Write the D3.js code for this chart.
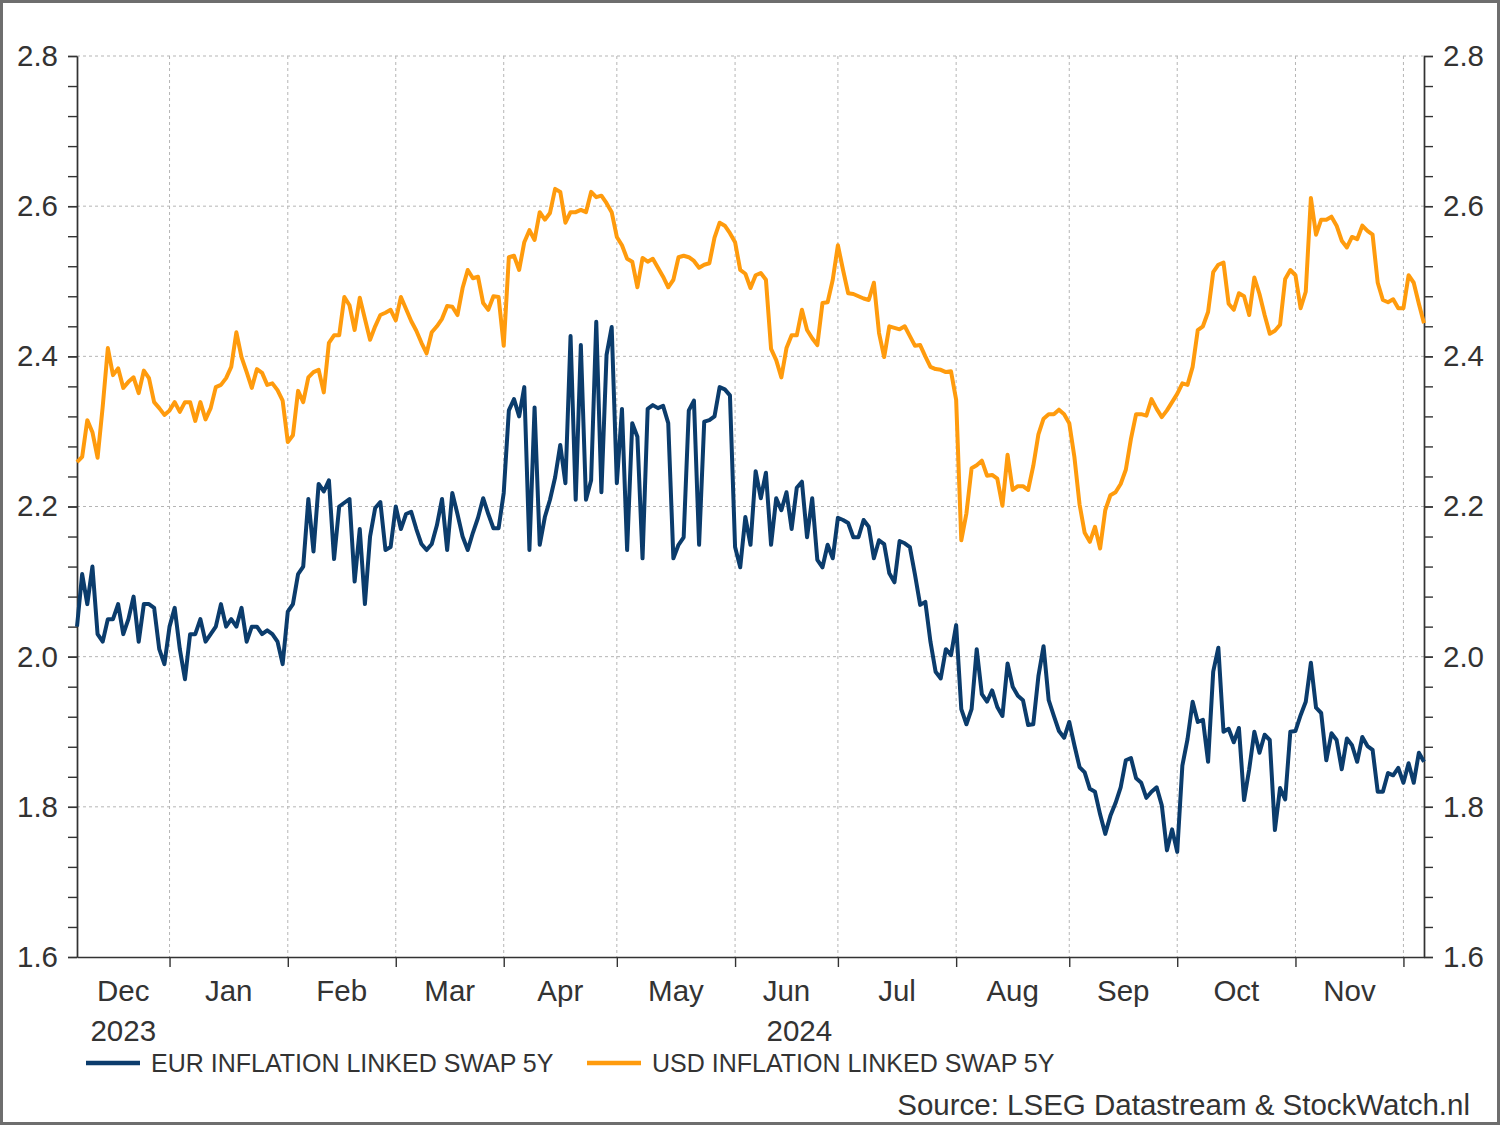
<!DOCTYPE html>
<html>
<head>
<meta charset="utf-8">
<script src="https://cdn.jsdelivr.net/npm/d3@7"></script>
<style>
  html, body { margin: 0; padding: 0; background: #fff; }
  svg text { font-family: "Liberation Sans", Arial, sans-serif; fill: #333; }
</style>
</head>
<body>
<script>
'use strict';

// first trading day shown, one value per trading day (Mon-Fri)
var startDate = '2023-12-06';

var eur = [
  2.04, 2.11, 2.07, 2.12, 2.03, 2.02, 2.05, 2.05, 2.07, 2.03,
  2.05, 2.08, 2.02, 2.07, 2.07, 2.065, 2.01, 1.99, 2.04, 2.065,
  2.01, 1.97, 2.03, 2.03, 2.05, 2.02, 2.03, 2.04, 2.07, 2.04,
  2.05, 2.04, 2.065, 2.02, 2.04, 2.04, 2.03, 2.035, 2.03, 2.02,
  1.99, 2.06, 2.07, 2.11, 2.12, 2.21, 2.14, 2.23, 2.22, 2.235,
  2.13, 2.20, 2.205, 2.21, 2.10, 2.17, 2.07, 2.16, 2.198, 2.206,
  2.142, 2.146, 2.20, 2.17, 2.19, 2.193, 2.17, 2.15, 2.142, 2.15,
  2.175, 2.21, 2.142, 2.218, 2.19, 2.16, 2.142, 2.165, 2.185, 2.211,
  2.19, 2.171, 2.171, 2.218, 2.328, 2.343, 2.32, 2.359, 2.142, 2.332,
  2.149, 2.186, 2.209, 2.239, 2.282, 2.231, 2.427, 2.209, 2.415, 2.209,
  2.235, 2.446, 2.219, 2.402, 2.439, 2.231, 2.33, 2.142, 2.311, 2.293,
  2.131, 2.33, 2.335, 2.331, 2.334, 2.311, 2.131, 2.149, 2.159, 2.328,
  2.341, 2.149, 2.313, 2.315, 2.32, 2.359, 2.356, 2.348, 2.146, 2.119,
  2.186, 2.149, 2.247, 2.211, 2.245, 2.149, 2.211, 2.195, 2.219, 2.17,
  2.225, 2.233, 2.159, 2.211, 2.129, 2.119, 2.149, 2.131, 2.185, 2.182,
  2.178, 2.159, 2.159, 2.182, 2.173, 2.131, 2.155, 2.15, 2.111, 2.099,
  2.154, 2.151, 2.146, 2.109, 2.069, 2.073, 2.02, 1.98, 1.971, 2.01,
  2.002, 2.042, 1.93, 1.91, 1.93, 2.01, 1.95, 1.94, 1.955, 1.933,
  1.921, 1.991, 1.96, 1.948, 1.942, 1.909, 1.91, 1.974, 2.014, 1.942,
  1.921, 1.901, 1.892, 1.913, 1.882, 1.853, 1.846, 1.824, 1.82, 1.79,
  1.764, 1.788, 1.805, 1.826, 1.862, 1.865, 1.838, 1.832, 1.812, 1.82,
  1.826, 1.802, 1.742, 1.77, 1.74, 1.855, 1.89, 1.94, 1.913, 1.916,
  1.86, 1.98, 2.012, 1.90, 1.904, 1.886, 1.905, 1.809, 1.85, 1.90,
  1.872, 1.896, 1.889, 1.769, 1.825, 1.81, 1.90, 1.901, 1.922, 1.94,
  1.992, 1.932, 1.925, 1.862, 1.898, 1.889, 1.85, 1.891, 1.882, 1.86,
  1.893, 1.881, 1.876, 1.82, 1.82, 1.845, 1.842, 1.852, 1.832, 1.858,
  1.832, 1.872, 1.86
];

var usd = [
  2.259, 2.266, 2.315, 2.299, 2.265, 2.333, 2.411, 2.375, 2.384, 2.358,
  2.366, 2.372, 2.351, 2.381, 2.371, 2.339, 2.331, 2.322, 2.328, 2.339,
  2.326, 2.339, 2.339, 2.314, 2.339, 2.316, 2.331, 2.359, 2.362, 2.371,
  2.386, 2.432, 2.399, 2.379, 2.358, 2.383, 2.378, 2.362, 2.364, 2.355,
  2.341, 2.286, 2.295, 2.354, 2.339, 2.372, 2.379, 2.382, 2.352, 2.418,
  2.428, 2.428, 2.479, 2.468, 2.435, 2.478, 2.45, 2.422, 2.44, 2.455,
  2.458, 2.462, 2.448, 2.479, 2.463, 2.447, 2.434, 2.418, 2.404, 2.432,
  2.44, 2.45, 2.467, 2.466, 2.455, 2.491, 2.515, 2.504, 2.506, 2.471,
  2.462, 2.48, 2.479, 2.414, 2.532, 2.534, 2.515, 2.552, 2.568, 2.555,
  2.592, 2.582, 2.591, 2.623, 2.619, 2.578, 2.592, 2.592, 2.595, 2.592,
  2.619, 2.612, 2.614, 2.604, 2.592, 2.559, 2.548, 2.53, 2.526, 2.492,
  2.531, 2.526, 2.53, 2.518, 2.506, 2.492, 2.502, 2.532, 2.534, 2.532,
  2.527, 2.518, 2.522, 2.524, 2.558, 2.578, 2.574, 2.564, 2.552, 2.515,
  2.51, 2.491, 2.508, 2.511, 2.502, 2.41, 2.395, 2.372, 2.411, 2.428,
  2.428, 2.462, 2.435, 2.424, 2.415, 2.471, 2.472, 2.502, 2.548, 2.515,
  2.484, 2.483, 2.48, 2.477, 2.475, 2.498, 2.431, 2.399, 2.44, 2.438,
  2.436, 2.44, 2.427, 2.414, 2.415, 2.40, 2.386, 2.383, 2.382, 2.379,
  2.38, 2.342, 2.155, 2.191, 2.251, 2.255, 2.261, 2.241, 2.242, 2.237,
  2.201, 2.269, 2.222, 2.227, 2.227, 2.222, 2.254, 2.296, 2.317, 2.323,
  2.323, 2.329, 2.323, 2.311, 2.266, 2.203, 2.165, 2.153, 2.173, 2.144,
  2.195, 2.215, 2.219, 2.23, 2.249, 2.29, 2.323, 2.323, 2.321, 2.343,
  2.33, 2.319, 2.328, 2.339, 2.35, 2.364, 2.362, 2.386, 2.435, 2.44,
  2.459, 2.512, 2.522, 2.525, 2.47, 2.462, 2.484, 2.48, 2.455, 2.505,
  2.483, 2.455, 2.43, 2.434, 2.442, 2.503, 2.515, 2.508, 2.464, 2.486,
  2.611, 2.562, 2.582, 2.582, 2.586, 2.574, 2.554, 2.545, 2.559, 2.556,
  2.574, 2.567, 2.562, 2.498, 2.475, 2.472, 2.476, 2.464, 2.464, 2.508,
  2.498, 2.47, 2.444
];

var yMajor = [1.6, 1.8, 2.0, 2.2, 2.4, 2.6, 2.8];
var monthNames = ['Jan', 'Feb', 'Mar', 'Apr', 'May', 'Jun', 'Jul', 'Aug', 'Sep', 'Oct', 'Nov', 'Dec'];
var seriesNames = ['EUR INFLATION LINKED SWAP 5Y', 'USD INFLATION LINKED SWAP 5Y'];
var seriesColors = ['#0b3c6c', '#ff9b0d'];
var source = 'Source: LSEG Datastream & StockWatch.nl';

var W = 1500, H = 1125;
var m = { left: 77, right: 76, top: 56, bottom: 168 };
var pw = W - m.left - m.right, ph = H - m.top - m.bottom;

// trading day calendar
var dates = [];
var d = d3.timeParse('%Y-%m-%d')(startDate);
while (dates.length < eur.length) {
  if (d.getDay() !== 0 && d.getDay() !== 6) dates.push(new Date(d));
  d = d3.timeDay.offset(d, 1);
}
var last = dates.length - 1;

var x = d3.scaleLinear().domain([0, last]).range([0, pw]);
var y = d3.scaleLinear().domain([1.6, 2.8]).range([ph, 0]);

// index of the first trading day in each month
var monthStarts = [];
dates.forEach(function (dt, i) {
  if (i > 0 && dt.getMonth() !== dates[i - 1].getMonth()) monthStarts.push(i);
});

var svg = d3.select('body').append('svg')
  .attr('width', W).attr('height', H);

svg.append('rect')
  .attr('x', 1.5).attr('y', 1.5)
  .attr('width', W - 3).attr('height', H - 3)
  .attr('fill', '#fff').attr('stroke', '#6e6e6e').attr('stroke-width', 3);

var g = svg.append('g').attr('transform', 'translate(' + m.left + ',' + m.top + ')');

// grid
g.append('g').selectAll('line').data(yMajor.slice(1)).join('line')
  .attr('x1', 0).attr('x2', pw)
  .attr('y1', function (v) { return y(v); }).attr('y2', function (v) { return y(v); })
  .attr('stroke', '#b5b5b5').attr('stroke-width', 1).attr('stroke-dasharray', '3,3');

g.append('g').selectAll('line').data(monthStarts).join('line')
  .attr('x1', function (i) { return x(i); }).attr('x2', function (i) { return x(i); })
  .attr('y1', 0).attr('y2', ph)
  .attr('stroke', '#b5b5b5').attr('stroke-width', 1).attr('stroke-dasharray', '3,3');

// axes
var minor = d3.range(1.6, 2.8001, 0.04);
var labelSize = '29.5px';

function styleAxis(sel) {
  sel.selectAll('path, line').attr('stroke', '#333').attr('stroke-width', 1.4);
  sel.selectAll('text').attr('fill', '#333').style('font-size', labelSize)
    .style('font-family', '"Liberation Sans", Arial, sans-serif');
}

g.append('g').call(d3.axisLeft(y).tickValues(minor).tickFormat('').tickSize(9).tickSizeOuter(0)).call(styleAxis);
g.append('g').call(d3.axisLeft(y).tickValues(yMajor).tickFormat(d3.format('.1f')).tickSize(9).tickPadding(10).tickSizeOuter(0))
  .call(styleAxis);

g.append('g').attr('transform', 'translate(' + pw + ',0)')
  .call(d3.axisRight(y).tickValues(minor).tickFormat('').tickSize(9).tickSizeOuter(0)).call(styleAxis);
g.append('g').attr('transform', 'translate(' + pw + ',0)')
  .call(d3.axisRight(y).tickValues(yMajor).tickFormat(d3.format('.1f')).tickSize(9).tickPadding(10).tickSizeOuter(0))
  .call(styleAxis);

g.append('g').attr('transform', 'translate(0,' + ph + ')')
  .call(d3.axisBottom(x).tickValues(monthStarts).tickFormat('').tickSize(10).tickSizeOuter(0))
  .call(styleAxis);

// month labels centred between month starts
var bounds = [0].concat(monthStarts).concat([last]);
var monthLabels = [];
for (var k = 0; k < bounds.length - 1; k++) {
  if (bounds[k + 1] - bounds[k] < 8) continue;
  monthLabels.push({ mid: (bounds[k] + bounds[k + 1]) / 2, name: monthNames[dates[bounds[k]].getMonth()] });
}
g.append('g').selectAll('text').data(monthLabels).join('text')
  .attr('x', function (l) { return x(l.mid); }).attr('y', ph + 44)
  .attr('text-anchor', 'middle').style('font-size', labelSize)
  .text(function (l) { return l.name; });

// year labels centred on each year's span
var years = d3.groups(d3.range(dates.length), function (i) { return dates[i].getFullYear(); });
g.append('g').selectAll('text').data(years).join('text')
  .attr('x', function (yr) { return x((yr[1][0] + yr[1][yr[1].length - 1] + 1) / 2); }).attr('y', ph + 84)
  .attr('text-anchor', 'middle').style('font-size', labelSize)
  .text(function (yr) { return yr[0]; });

// lines
var line = d3.line()
  .x(function (v, i) { return x(i); })
  .y(function (v) { return y(v); });

[eur, usd].forEach(function (s, si) {
  g.append('path').datum(s)
    .attr('d', line)
    .attr('fill', 'none')
    .attr('stroke', seriesColors[si])
    .attr('stroke-width', 4)
    .attr('stroke-linejoin', 'round');
});

// legend
var legX = [86, 587];
var leg = svg.append('g').attr('transform', 'translate(0,1063)');
seriesNames.forEach(function (n, si) {
  leg.append('line')
    .attr('x1', legX[si]).attr('x2', legX[si] + 54)
    .attr('stroke', seriesColors[si]).attr('stroke-width', 4.5);
  leg.append('text')
    .attr('x', legX[si] + 65).attr('y', 9)
    .style('font-size', '25px')
    .text(n);
});

svg.append('text')
  .attr('x', 1470).attr('y', 1115)
  .attr('text-anchor', 'end')
  .style('font-size', '29.5px')
  .text(source);
</script>
</body>
</html>
